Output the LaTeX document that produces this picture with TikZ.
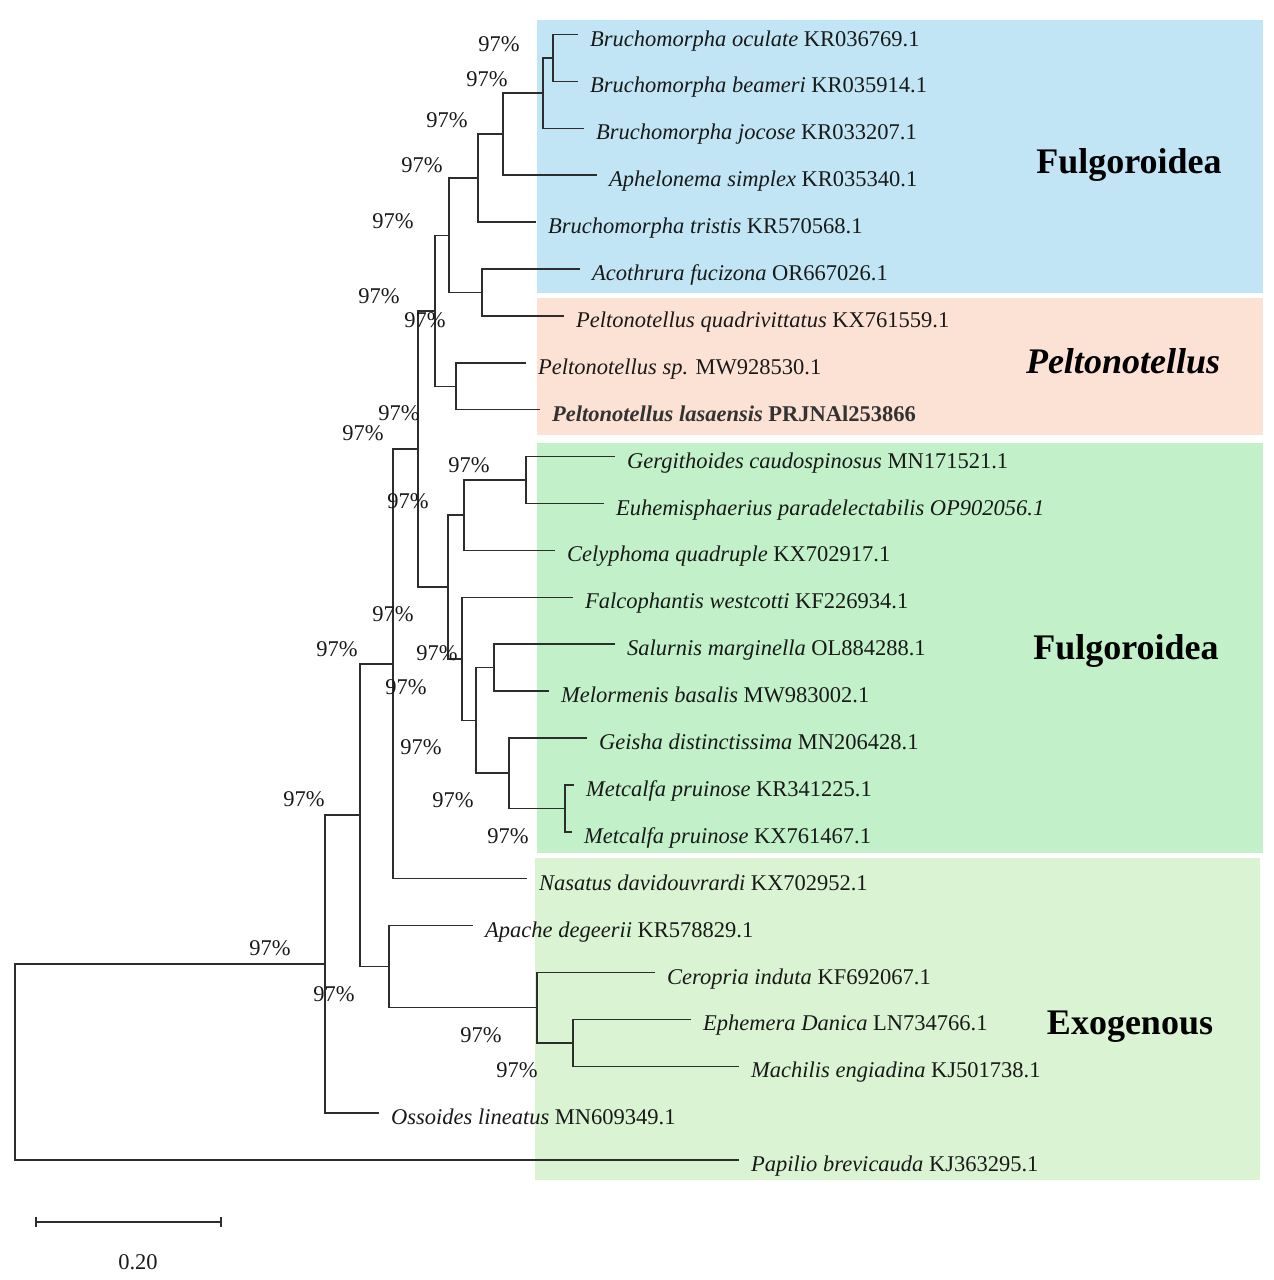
\documentclass[tikz,border=0pt]{standalone}
\usepackage{fontspec}
\setmainfont{Liberation Serif}
\definecolor{cblue}{RGB}{193,229,245}
\definecolor{cpeach}{RGB}{252,225,213}
\definecolor{cgreen}{RGB}{193,240,201}
\definecolor{clgreen}{RGB}{218,243,210}
\definecolor{tline}{RGB}{45,45,45}
\definecolor{ttext}{RGB}{25,25,25}
\begin{document}
\begin{tikzpicture}[x=1pt,y=-1pt,
  branch/.style={draw=tline,line width=1.5pt,line cap=rect},
  taxon/.style={anchor=base west,inner sep=0pt,font=\fontsize{22.5}{27}\selectfont,text=ttext},
  boot/.style={anchor=center,inner sep=0pt,font=\fontsize{22.5}{27}\selectfont,text=ttext},
  group/.style={anchor=center,inner sep=0pt,font=\fontsize{36}{42}\selectfont\bfseries,text=black}]
\useasboundingbox (0,0) rectangle (1274,1280);
% panels
\fill[cblue] (537,20) rectangle (1263,293);
\fill[cpeach] (537,298) rectangle (1263,435);
\fill[cgreen] (537,443) rectangle (1263,853);
\fill[clgreen] (535,858) rectangle (1260,1180);
% leaf ends
\coordinate (l1) at (577,34.5);
\coordinate (l2) at (577,81.4);
\coordinate (l3) at (583,128.3);
\coordinate (l4) at (596,175.2);
\coordinate (l5) at (535,222.1);
\coordinate (l6) at (579,269);
\coordinate (l7) at (563,315.9);
\coordinate (l8) at (525,362.8);
\coordinate (l9) at (539,409.7);
\coordinate (l10) at (614,456.6);
\coordinate (l11) at (603,503.5);
\coordinate (l12) at (554,550.4);
\coordinate (l13) at (572,597.3);
\coordinate (l14) at (614,644.2);
\coordinate (l15) at (548,691.1);
\coordinate (l16) at (586,738);
\coordinate (l17) at (573,784.9);
\coordinate (l18) at (571,831.8);
\coordinate (l19) at (526,878.7);
\coordinate (l20) at (472,925.6);
\coordinate (l21) at (654,972.5);
\coordinate (l22) at (690,1019.4);
\coordinate (l23) at (738,1066.3);
\coordinate (l24) at (378,1113.2);
\coordinate (l25) at (738,1160.1);
% internal nodes
\coordinate (nA) at (553,58);
\coordinate (nB) at (543,93.1);
\coordinate (nC) at (503,134.2);
\coordinate (nD) at (478,178.1);
\coordinate (nE) at (482,292.5);
\coordinate (nF) at (449,235.3);
\coordinate (nH) at (456,386.3);
\coordinate (nG) at (435,310.8);
\coordinate (nR) at (526,480);
\coordinate (nQ) at (464,515.2);
\coordinate (nU) at (494,667.7);
\coordinate (nW) at (565,808.4);
\coordinate (nV) at (509,773.2);
\coordinate (nT) at (476,720.5);
\coordinate (nS) at (462,658.9);
\coordinate (nJ) at (448,587);
\coordinate (nI) at (418,448.9);
\coordinate (nK) at (393,663.8);
\coordinate (nP) at (573,1042.9);
\coordinate (nO) at (537,1007.7);
\coordinate (nM) at (389,966.7);
\coordinate (nL) at (360,815.2);
\coordinate (nN) at (325,964.2);
\coordinate (root) at (15,1062);
% branches
\draw[branch] (nA) |- (l1); \draw[branch] (nA) |- (l2);
\draw[branch] (nB) |- (nA); \draw[branch] (nB) |- (l3);
\draw[branch] (nC) |- (nB); \draw[branch] (nC) |- (l4);
\draw[branch] (nD) |- (nC); \draw[branch] (nD) |- (l5);
\draw[branch] (nE) |- (l6); \draw[branch] (nE) |- (l7);
\draw[branch] (nF) |- (nD); \draw[branch] (nF) |- (nE);
\draw[branch] (nH) |- (l8); \draw[branch] (nH) |- (l9);
\draw[branch] (nG) |- (nF); \draw[branch] (nG) |- (nH);
\draw[branch] (nR) |- (l10); \draw[branch] (nR) |- (l11);
\draw[branch] (nQ) |- (nR); \draw[branch] (nQ) |- (l12);
\draw[branch] (nU) |- (l14); \draw[branch] (nU) |- (l15);
\draw[branch] (nW) |- (l17); \draw[branch] (nW) |- (l18);
\draw[branch] (nV) |- (l16); \draw[branch] (nV) |- (nW);
\draw[branch] (nT) |- (nU); \draw[branch] (nT) |- (nV);
\draw[branch] (nS) |- (l13); \draw[branch] (nS) |- (nT);
\draw[branch] (nJ) |- (nQ); \draw[branch] (nJ) |- (nS);
\draw[branch] (nI) |- (nG); \draw[branch] (nI) |- (nJ);
\draw[branch] (nK) |- (nI); \draw[branch] (nK) |- (l19);
\draw[branch] (nP) |- (l22); \draw[branch] (nP) |- (l23);
\draw[branch] (nO) |- (l21); \draw[branch] (nO) |- (nP);
\draw[branch] (nM) |- (l20); \draw[branch] (nM) |- (nO);
\draw[branch] (nL) |- (nK); \draw[branch] (nL) |- (nM);
\draw[branch] (nN) |- (nL); \draw[branch] (nN) |- (l24);
\draw[branch] (root) |- (nN); \draw[branch] (root) |- (l25);
% taxon labels
\node[taxon] (t1) at ([xshift=13pt,yshift=-11.5pt]l1) {\textit{Bruchomorpha oculate} KR036769.1};
\node[taxon] (t2) at ([xshift=13pt,yshift=-11.5pt]l2) {\textit{Bruchomorpha beameri} KR035914.1};
\node[taxon] (t3) at ([xshift=13pt,yshift=-11.5pt]l3) {\textit{Bruchomorpha jocose} KR033207.1};
\node[taxon] (t4) at ([xshift=13pt,yshift=-11.5pt]l4) {\textit{Aphelonema simplex} KR035340.1};
\node[taxon] (t5) at ([xshift=13pt,yshift=-11.5pt]l5) {\textit{Bruchomorpha tristis} KR570568.1};
\node[taxon] (t6) at ([xshift=13pt,yshift=-11.5pt]l6) {\textit{Acothrura fucizona} OR667026.1};
\node[taxon] (t7) at ([xshift=13pt,yshift=-11.5pt]l7) {\textit{Peltonotellus quadrivittatus} KX761559.1};
\node[taxon] (t8) at ([xshift=13pt,yshift=-11.5pt]l8) {\textit{Peltonotellus sp.} MW928530.1};
\node[taxon,text=black!80] (t9) at ([xshift=13pt,yshift=-11.5pt]l9) {\bfseries\textit{Peltonotellus lasaensis} PRJNAl253866};
\node[taxon] (t10) at ([xshift=13pt,yshift=-11.5pt]l10) {\textit{Gergithoides caudospinosus} MN171521.1};
\node[taxon] (t11) at ([xshift=13pt,yshift=-11.5pt]l11) {\textit{Euhemisphaerius paradelectabilis OP902056.1}};
\node[taxon] (t12) at ([xshift=13pt,yshift=-11.5pt]l12) {\textit{Celyphoma quadruple} KX702917.1};
\node[taxon] (t13) at ([xshift=13pt,yshift=-11.5pt]l13) {\textit{Falcophantis westcotti} KF226934.1};
\node[taxon] (t14) at ([xshift=13pt,yshift=-11.5pt]l14) {\textit{Salurnis marginella} OL884288.1};
\node[taxon] (t15) at ([xshift=13pt,yshift=-11.5pt]l15) {\textit{Melormenis basalis} MW983002.1};
\node[taxon] (t16) at ([xshift=13pt,yshift=-11.5pt]l16) {\textit{Geisha distinctissima} MN206428.1};
\node[taxon] (t17) at ([xshift=13pt,yshift=-11.5pt]l17) {\textit{Metcalfa pruinose} KR341225.1};
\node[taxon] (t18) at ([xshift=13pt,yshift=-11.5pt]l18) {\textit{Metcalfa pruinose} KX761467.1};
\node[taxon] (t19) at ([xshift=13pt,yshift=-11.5pt]l19) {\textit{Nasatus davidouvrardi} KX702952.1};
\node[taxon] (t20) at ([xshift=13pt,yshift=-11.5pt]l20) {\textit{Apache degeerii} KR578829.1};
\node[taxon] (t21) at ([xshift=13pt,yshift=-11.5pt]l21) {\textit{Ceropria induta} KF692067.1};
\node[taxon] (t22) at ([xshift=13pt,yshift=-11.5pt]l22) {\textit{Ephemera Danica} LN734766.1};
\node[taxon] (t23) at ([xshift=13pt,yshift=-11.5pt]l23) {\textit{Machilis engiadina} KJ501738.1};
\node[taxon] (t24) at ([xshift=13pt,yshift=-11.5pt]l24) {\textit{Ossoides lineatus} MN609349.1};
\node[taxon] (t25) at ([xshift=13pt,yshift=-11.5pt]l25) {\textit{Papilio brevicauda} KJ363295.1};
% bootstrap values
\node[boot] (b1) at (499,44) {97\%};
\node[boot] (b2) at (487,79) {97\%};
\node[boot] (b3) at (447,120) {97\%};
\node[boot] (b4) at (422,165) {97\%};
\node[boot] (b5) at (393,221) {97\%};
\node[boot] (b6) at (379,296) {97\%};
\node[boot] (b7) at (425,320) {97\%};
\node[boot] (b8) at (399,413) {97\%};
\node[boot] (b9) at (363,433) {97\%};
\node[boot] (b10) at (469,465) {97\%};
\node[boot] (b11) at (408,501) {97\%};
\node[boot] (b12) at (393,614) {97\%};
\node[boot] (b13) at (337,649) {97\%};
\node[boot] (b14) at (437,653) {97\%};
\node[boot] (b15) at (406,687) {97\%};
\node[boot] (b16) at (421,747) {97\%};
\node[boot] (b17) at (453,800) {97\%};
\node[boot] (b18) at (508,836) {97\%};
\node[boot] (b19) at (304,799) {97\%};
\node[boot] (b20) at (270,948) {97\%};
\node[boot] (b21) at (334,994) {97\%};
\node[boot] (b22) at (481,1035) {97\%};
\node[boot] (b23) at (517,1070) {97\%};
% group labels
\node[group] (g1) at (1129,165) {Fulgoroidea};
\node[group] (g2) at (1123,361) {\textit{Peltonotellus}};
\node[group] (g3) at (1126,651) {Fulgoroidea};
\node[group] (g4) at (1130,1027) {Exogenous};
% scale bar
\coordinate (s0) at (36,1222);
\coordinate (s1) at (221,1222);
\draw[branch] (s0) -- (s1);
\draw[branch,line cap=butt] ([yshift=5pt]s0) -- ([yshift=-5pt]s0);
\draw[branch,line cap=butt] ([yshift=5pt]s1) -- ([yshift=-5pt]s1);
\node[boot] (sl) at (138,1262) {0.20};
\end{tikzpicture}
\end{document}
